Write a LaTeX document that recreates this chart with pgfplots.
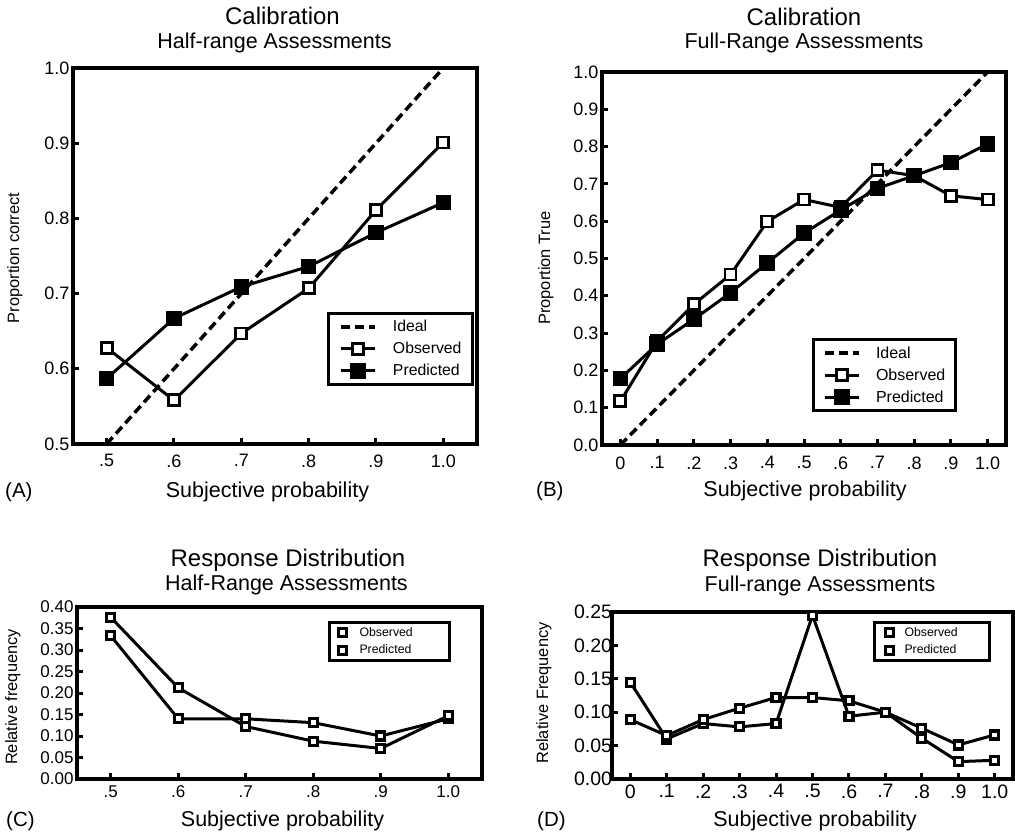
\documentclass[border=0pt]{standalone}
\usepackage{fontspec}
\setmainfont{Liberation Sans}
\usepackage{pgfplots}
\pgfplotsset{compat=1.18}

\newcommand{\fs}[1]{\fontsize{#1}{#1}\selectfont}

\pgfplotsset{
  panel/.style={
    scale only axis,
    anchor=south west,
    axis line style={line width=3.5pt, line cap=rect},
    tick align=inside,
    tick pos=left,
    major tick length=6pt,
    every tick/.style={black, line width=3pt},
    clip=false,
    ylabel style={anchor=center, inner sep=0pt, font=\fs{16.4}},
    xlabel style={anchor=base, inner sep=0pt, font=\fs{21.5}},
  },
  obs/.style={black, line width=3pt, mark=square*, mark size=5.5pt,
    mark options={fill=white, line width=2.8pt, solid}},
  pred/.style={black, line width=3pt, mark=square*, mark size=6.3pt,
    mark options={fill=black, solid}},
  ideal/.style={black, line width=3.5pt, dash pattern=on 9pt off 5pt},
  dist/.style={black, line width=3pt, mark=square*, mark size=4pt,
    mark options={fill=white, line width=3.2pt, solid}},
  callegend/.style={
    legend image code/.code={
      \draw[##1] (0pt,0pt) -- (34pt,0pt);
      \draw[##1] plot coordinates {(17pt,0pt)};
    },
    legend cell align=left,
  },
  distlegend/.style={
    legend image code/.code={
      \draw[##1] plot coordinates {(0pt,0pt)};
    },
    legend cell align=left,
  },
}

\begin{document}
\begin{tikzpicture}
\useasboundingbox (0,0) rectangle (1015pt,836pt);

% (A) calibration, half-range
\begin{axis}[panel,
  at={(73pt,392pt)}, width=404pt, height=376pt,
  xmin=0.45, xmax=1.05, ymin=0.5, ymax=1.0,
  xtick={0.5,0.6,0.7,0.8,0.9,1.0}, xticklabels={.5,.6,.7,.8,.9,1.0},
  ytick={0.5,0.6,0.7,0.8,0.9,1.0}, yticklabels={0.5,0.6,0.7,0.8,0.9,1.0},
  ticklabel style={font=\fs{18}},
  xticklabel style={yshift=-7pt},
  xlabel={Subjective probability},
  xlabel style={at={(rel axis cs:0.4814,0)}, yshift=-54pt},
  ylabel={Proportion correct},
  ylabel style={at={(rel axis cs:0,0.4947)}, yshift=58pt},
  callegend,
  legend style={at={(0.6287,0.351)}, anchor=north west, draw=black,
    line width=3pt, font=\fs{15.8}, inner xsep=11pt, inner ysep=7pt,
    row sep=9pt, column sep=16pt, nodes={inner sep=0pt}},
]
\addplot[ideal] coordinates {(0.5,0.5) (1.0,1.0)};
\addlegendentry{Ideal}
\addplot[obs] coordinates {
  (0.5,0.628) (0.6,0.558) (0.7,0.647) (0.8,0.707) (0.9,0.811) (1.0,0.901)};
\addlegendentry{Observed}
\addplot[pred] coordinates {
  (0.5,0.587) (0.6,0.667) (0.7,0.709) (0.8,0.736) (0.9,0.781) (1.0,0.821)};
\addlegendentry{Predicted}
\end{axis}

% (B) calibration, full-range
\begin{axis}[panel,
  at={(602pt,391pt)}, width=404pt, height=373pt,
  xmin=-0.05, xmax=1.05, ymin=0, ymax=1.0,
  xtick={0,0.1,0.2,0.3,0.4,0.5,0.6,0.7,0.8,0.9,1.0},
  xticklabels={0,.1,.2,.3,.4,.5,.6,.7,.8,.9,1.0},
  ytick={0,0.1,0.2,0.3,0.4,0.5,0.6,0.7,0.8,0.9,1.0},
  yticklabels={0.0,0.1,0.2,0.3,0.4,0.5,0.6,0.7,0.8,0.9,1.0},
  ticklabel style={font=\fs{18}},
  xticklabel style={yshift=-8pt},
  xlabel={Subjective probability},
  xlabel style={at={(rel axis cs:0.5025,0)}, yshift=-52pt},
  ylabel={Proportion True},
  ylabel style={at={(rel axis cs:0,0.4745)}, yshift=56pt},
  callegend,
  legend style={at={(0.5198,0.2869)}, anchor=north west, draw=black,
    line width=3pt, font=\fs{16}, inner xsep=10pt, inner ysep=7pt,
    row sep=9pt, column sep=15pt, nodes={inner sep=0pt}},
]
\addplot[ideal] coordinates {(0,0) (1.0,1.0)};
\addlegendentry{Ideal}
\addplot[obs] coordinates {
  (0,0.117) (0.1,0.278) (0.2,0.377) (0.3,0.457) (0.4,0.599) (0.5,0.658)
  (0.6,0.637) (0.7,0.737) (0.8,0.722) (0.9,0.668) (1.0,0.658)};
\addlegendentry{Observed}
\addplot[pred] coordinates {
  (0,0.178) (0.1,0.270) (0.2,0.337) (0.3,0.408) (0.4,0.488) (0.5,0.568)
  (0.6,0.630) (0.7,0.688) (0.8,0.722) (0.9,0.757) (1.0,0.807)};
\addlegendentry{Predicted}
\end{axis}

% (C) response distribution, half-range
\begin{axis}[panel,
  at={(77pt,57pt)}, width=405pt, height=172pt,
  xmin=0.45, xmax=1.05, ymin=0, ymax=0.40,
  xtick={0.5,0.6,0.7,0.8,0.9,1.0}, xticklabels={.5,.6,.7,.8,.9,1.0},
  ytick={0,0.05,0.10,0.15,0.20,0.25,0.30,0.35,0.40},
  yticklabels={0.00,0.05,0.10,0.15,0.20,0.25,0.30,0.35,0.40},
  ticklabel style={font=\fs{17}},
  xticklabel style={yshift=-3pt},
  xlabel={Subjective probability},
  xlabel style={at={(rel axis cs:0.5074,0)}, yshift=-47.7pt},
  ylabel={Relative frequency},
  ylabel style={at={(rel axis cs:0,0.4767)}, yshift=64pt},
  distlegend,
  legend style={at={(0.6198,0.9186)}, anchor=north west, draw=black,
    line width=3pt, font=\fs{12.3}, inner xsep=9pt, inner ysep=5pt,
    row sep=7pt, column sep=13pt, nodes={inner sep=0pt}},
]
\addplot[dist] coordinates {
  (0.5,0.333) (0.6,0.140) (0.7,0.140) (0.8,0.131) (0.9,0.100) (1.0,0.140)};
\addlegendentry{\makebox[81pt][l]{Observed}}
\addplot[dist] coordinates {
  (0.5,0.376) (0.6,0.212) (0.7,0.122) (0.8,0.088) (0.9,0.071) (1.0,0.147)};
\addlegendentry{\makebox[81pt][l]{Predicted}}
\end{axis}

% (D) response distribution, full-range
\begin{axis}[panel,
  at={(612pt,57pt)}, width=401pt, height=167pt,
  xmin=-0.05, xmax=1.05, ymin=0, ymax=0.25,
  xtick={0,0.1,0.2,0.3,0.4,0.5,0.6,0.7,0.8,0.9,1.0},
  xticklabels={0,.1,.2,.3,.4,.5,.6,.7,.8,.9,1.0},
  ytick={0,0.05,0.10,0.15,0.20,0.25},
  yticklabels={0.00,0.05,0.10,0.15,0.20,0.25},
  ticklabel style={font=\fs{19.5}},
  xticklabel style={yshift=-2pt},
  yticklabel style={xshift=3.5pt},
  xlabel={Subjective probability},
  xlabel style={at={(rel axis cs:0.5062,0)}, yshift=-47.7pt},
  ylabel={Relative Frequency},
  ylabel style={at={(rel axis cs:0,0.515)}, yshift=68pt},
  distlegend,
  legend style={at={(0.6509,0.946)}, anchor=north west, draw=black,
    line width=3pt, font=\fs{12.3}, inner xsep=11pt, inner ysep=5pt,
    row sep=7pt, column sep=11pt, nodes={inner sep=0pt}},
]
\addplot[dist] coordinates {
  (0,0.145) (0.1,0.060) (0.2,0.083) (0.3,0.078) (0.4,0.083) (0.5,0.245)
  (0.6,0.094) (0.7,0.100) (0.8,0.061) (0.9,0.026) (1.0,0.028)};
\addlegendentry{\makebox[74pt][l]{Observed}}
\addplot[dist] coordinates {
  (0,0.089) (0.1,0.065) (0.2,0.089) (0.3,0.106) (0.4,0.122) (0.5,0.122)
  (0.6,0.117) (0.7,0.100) (0.8,0.076) (0.9,0.051) (1.0,0.066)};
\addlegendentry{\makebox[74pt][l]{Predicted}}
\end{axis}

% panel titles and letters
\begin{scope}[every node/.style={inner sep=0pt, anchor=base}]
\node[font=\fs{24}] at (282.5pt,811.5pt) {Calibration};
\node[font=\fs{21.5}] at (274.5pt,787pt) {Half-range Assessments};
\node[font=\fs{24}] at (804pt,810.5pt) {Calibration};
\node[font=\fs{21.5}] at (804pt,787pt) {Full-Range Assessments};
\node[font=\fs{24}] at (288pt,269pt) {Response Distribution};
\node[font=\fs{21.5}] at (286.5pt,245pt) {Half-Range Assessments};
\node[font=\fs{24}] at (820pt,269pt) {Response Distribution};
\node[font=\fs{21.5}] at (820pt,244pt) {Full-range Assessments};
\node[font=\fs{20.5}, anchor=base west] at (5pt,338pt) {(A)};
\node[font=\fs{20.5}, anchor=base west] at (536pt,339pt) {(B)};
\node[font=\fs{20.5}, anchor=base west] at (6pt,9.3pt) {(C)};
\node[font=\fs{20.5}, anchor=base west] at (537pt,9.3pt) {(D)};
\end{scope}
\end{tikzpicture}
\end{document}
